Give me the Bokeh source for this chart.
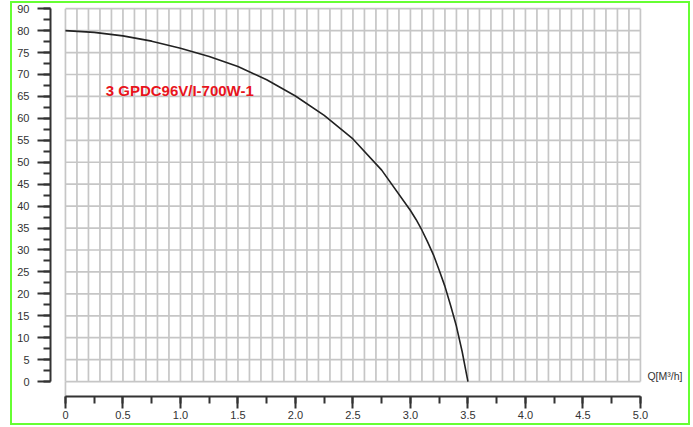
import numpy as np
from bokeh.plotting import figure
from bokeh.models import Range1d, SingleIntervalTicker, PrintfTickFormatter, Label
from bokeh.embed import file_html
from bokeh.resources import INLINE

# Pump curve
flow = [0, 0.25, 0.5, 0.75, 1.0, 1.25, 1.5, 1.75, 2.0, 2.25, 2.5, 2.75,
        3.0, 3.05, 3.1, 3.15, 3.2, 3.25, 3.3, 3.35, 3.4, 3.45, 3.5]
head = [80, 79.6, 78.8, 77.6, 76.0, 74.1, 71.8, 68.8, 65.1, 60.7, 55.3, 48.2,
        39.0, 36.9, 34.5, 31.8, 28.9, 25.4, 21.7, 17.3, 12.6, 6.8, 0]

model_name = "3 GPDC96V/I-700W-1"
x_axis_title = "Q[M³/h]"
y_top_label = {85: "90"}
x_zero_label = {0: "0"}

X_MAX = 5.0
Y_MAX = 85
X_STEP = 0.1
Y_STEP = 5
Y_LOW = -3.4

p = figure(frame_width=638, frame_height=390,
           x_range=Range1d(-0.13, 5.418), y_range=Range1d(Y_LOW, 85.5),
           output_backend="svg", toolbar_location=None,
           min_border_left=38, min_border_top=3, min_border_right=0,
           min_border_bottom=27)
p.styles = {"border": "2px solid #66ff33", "margin-left": "10px", "margin-top": "1px"}
p.outline_line_color = None
p.xgrid.visible = False
p.ygrid.visible = False
p.background_fill_color = "white"

grid_color = "#c6c6c6"
xs = np.round(np.arange(0, X_MAX + 1e-9, X_STEP), 2)
p.segment(x0=xs, y0=[0] * len(xs), x1=xs, y1=[Y_MAX] * len(xs),
          line_color=grid_color, line_width=1.7)
ys = np.arange(0, Y_MAX + 1e-9, Y_STEP)
p.segment(x0=[0] * len(ys), y0=ys, x1=[X_MAX] * len(ys), y1=ys,
          line_color=grid_color, line_width=1.7)
# left grid edge continues down to the x axis
p.segment(x0=[0], y0=[Y_LOW], x1=[0], y1=[0], line_color=grid_color, line_width=1.7)

p.line(flow, head, line_color="#222222", line_width=1.6)

p.add_layout(Label(x=0.35, y=66.3, text=model_name, text_color="#e8141c",
                   text_font="Liberation Sans", text_font_style="bold",
                   text_font_size="15px", text_baseline="middle"))
p.add_layout(Label(x=X_MAX, y=1.3, x_offset=7, text=x_axis_title, text_color="#333333",
                   text_font="Liberation Sans", text_font_size="10.5px",
                   text_baseline="middle"))

axis_color = "#333333"
xa = p.xaxis[0]
xa.bounds = (0, X_MAX)
xa.ticker = SingleIntervalTicker(interval=0.5, num_minor_ticks=2)
xa.formatter = PrintfTickFormatter(format="%.1f")
xa.major_label_overrides = x_zero_label
ya = p.yaxis[0]
ya.bounds = (0, Y_MAX)
ya.ticker = SingleIntervalTicker(interval=5, num_minor_ticks=2)
ya.major_label_overrides = y_top_label
for ax in (xa, ya):
    ax.axis_line_color = axis_color
    ax.axis_line_width = 2
    ax.major_tick_line_color = axis_color
    ax.major_tick_line_width = 2
    ax.minor_tick_line_color = axis_color
    ax.minor_tick_line_width = 2
    ax.major_tick_in = 0
    ax.major_tick_out = 13
    ax.minor_tick_in = 0
    ax.minor_tick_out = 7
    ax.major_label_text_font = "Liberation Sans"
    ax.major_label_text_font_size = "11px"
    ax.major_label_text_color = "#333333"
xa.major_tick_out = 12
xa.major_label_standoff = 2
ya.major_label_standoff = 8

open("out.html", "w").write(file_html(p, INLINE))
